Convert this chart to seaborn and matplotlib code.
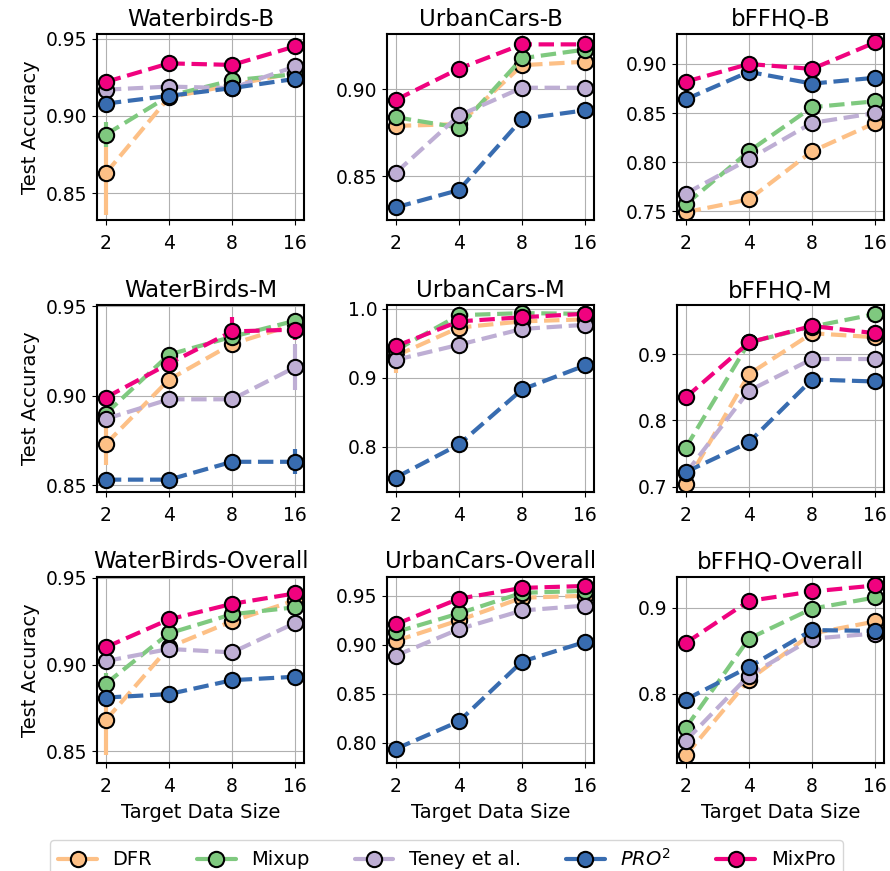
import numpy as np
import pandas as pd
import matplotlib
matplotlib.use("Agg")
import matplotlib.pyplot as plt
from matplotlib.lines import Line2D
from matplotlib.ticker import NullLocator
import seaborn as sns

# --- data ---
sizes = [2, 4, 8, 16]
methods = ["DFR", "Mixup", "Teney et al.", "$PRO^2$", "MixPro"]
colors = ["#fdc086", "#7fc97f", "#beaed4", "#386cb0", "#f0027f"]

titles = ["Waterbirds-B", "UrbanCars-B", "bFFHQ-B",
          "WaterBirds-M", "UrbanCars-M", "bFFHQ-M",
          "WaterBirds-Overall", "UrbanCars-Overall", "bFFHQ-Overall"]

# rows follow `methods` order
wb_b = [[0.863, 0.912, 0.920, 0.928],
        [0.888, 0.913, 0.923, 0.927],
        [0.917, 0.919, 0.918, 0.932],
        [0.908, 0.913, 0.918, 0.924],
        [0.922, 0.934, 0.933, 0.945]]
uc_b = [[0.879, 0.880, 0.914, 0.916],
        [0.884, 0.878, 0.918, 0.923],
        [0.852, 0.885, 0.901, 0.901],
        [0.832, 0.842, 0.883, 0.888],
        [0.894, 0.912, 0.926, 0.926]]
bf_b = [[0.749, 0.762, 0.811, 0.840],
        [0.757, 0.811, 0.856, 0.862],
        [0.768, 0.803, 0.840, 0.850],
        [0.864, 0.892, 0.880, 0.886],
        [0.882, 0.900, 0.895, 0.922]]
wb_m = [[0.873, 0.909, 0.929, 0.940],
        [0.890, 0.923, 0.933, 0.942],
        [0.887, 0.898, 0.898, 0.916],
        [0.853, 0.853, 0.863, 0.863],
        [0.899, 0.918, 0.936, 0.937]]
uc_m = [[0.932, 0.973, 0.982, 0.985],
        [0.940, 0.991, 0.994, 0.993],
        [0.926, 0.948, 0.971, 0.977],
        [0.755, 0.803, 0.883, 0.918],
        [0.946, 0.982, 0.988, 0.993]]
bf_m = [[0.704, 0.870, 0.932, 0.926],
        [0.759, 0.918, 0.942, 0.961],
        [0.720, 0.845, 0.893, 0.893],
        [0.722, 0.767, 0.862, 0.859],
        [0.835, 0.918, 0.943, 0.932]]
wb_o = [[0.868, 0.910, 0.925, 0.937],
        [0.889, 0.918, 0.929, 0.933],
        [0.902, 0.909, 0.907, 0.924],
        [0.881, 0.883, 0.891, 0.893],
        [0.910, 0.926, 0.935, 0.941]]
uc_o = [[0.904, 0.925, 0.948, 0.950],
        [0.913, 0.932, 0.953, 0.955],
        [0.889, 0.916, 0.935, 0.940],
        [0.794, 0.822, 0.883, 0.903],
        [0.921, 0.947, 0.958, 0.960]]
bf_o = [[0.728, 0.816, 0.870, 0.884],
        [0.760, 0.864, 0.899, 0.912],
        [0.745, 0.821, 0.864, 0.870],
        [0.793, 0.831, 0.874, 0.873],
        [0.859, 0.908, 0.919, 0.926]]

# error bars (std), mostly hidden behind markers
no_err = [[0, 0, 0, 0]] * 5
wb_b_err = [[0.027, 0, 0, 0], [0.008, 0, 0, 0], [0, 0, 0, 0], [0, 0, 0, 0], [0, 0, 0, 0]]
wb_m_err = [[0.012, 0, 0, 0.004], [0.007, 0, 0, 0], [0, 0, 0, 0.013],
            [0, 0, 0, 0.007], [0, 0, 0.008, 0.006]]
uc_m_err = [[0.025, 0, 0, 0], [0, 0, 0, 0], [0, 0, 0, 0], [0, 0, 0, 0], [0.012, 0, 0, 0]]
wb_o_err = [[0.02, 0, 0, 0], [0.006, 0, 0, 0], [0, 0, 0, 0], [0, 0, 0, 0], [0, 0, 0, 0]]
uc_o_err = [[0, 0, 0, 0], [0, 0, 0, 0], [0, 0, 0, 0], [0, 0, 0, 0], [0.008, 0, 0, 0]]

panels = [wb_b, uc_b, bf_b, wb_m, uc_m, bf_m, wb_o, uc_o, bf_o]
errors = [wb_b_err, no_err, no_err, wb_m_err, uc_m_err, no_err, wb_o_err, uc_o_err, no_err]

ylims = [(0.8326, 0.953), (0.8246, 0.932), (0.7408, 0.9306),
         (0.8463, 0.9506), (0.7345, 1.0053), (0.6924, 0.9742),
         (0.8433, 0.9506), (0.7796, 0.9694), (0.719, 0.9362)]
yticks = [[0.85, 0.90, 0.95], [0.85, 0.90], [0.75, 0.80, 0.85, 0.90],
          [0.85, 0.90, 0.95], [0.8, 0.9, 1.0], [0.7, 0.8, 0.9],
          [0.85, 0.90, 0.95], [0.80, 0.85, 0.90, 0.95], [0.8, 0.9]]
yfmt = ["%.2f", "%.2f", "%.2f", "%.2f", "%.1f", "%.1f", "%.2f", "%.2f", "%.1f"]

# --- plot ---
sns.set_style("ticks", {"axes.grid": True, "grid.color": "#b0b0b0",
                        "axes.edgecolor": "black", "text.color": "black",
                        "axes.labelcolor": "black", "xtick.color": "black",
                        "ytick.color": "black"})
plt.rcParams["font.family"] = ["DejaVu Sans"]

fig, axes = plt.subplots(3, 3, figsize=(8.9, 8.71))
fig.subplots_adjust(left=0.109, right=0.9933, top=0.961, bottom=0.124,
                    wspace=0.40, hspace=0.457)

for k, ax in enumerate(axes.flat):
    vals = panels[k]
    df = pd.DataFrame({
        "size": np.tile(sizes, len(methods)),
        "acc": np.ravel(vals),
        "method": np.repeat(methods, len(sizes)),
    })
    ax.set_xscale("log", base=2)
    for i in range(len(methods)):
        ax.errorbar(sizes, vals[i], yerr=errors[k][i], fmt="none",
                    ecolor=colors[i], elinewidth=3, capsize=0, zorder=1)
    sns.lineplot(data=df, x="size", y="acc", hue="method", hue_order=methods,
                 palette=colors, marker="o", markersize=11,
                 markeredgecolor="black", markeredgewidth=1.5,
                 linestyle="--", linewidth=3, errorbar=None,
                 legend=False, ax=ax, zorder=2)
    ax.set_xticks(sizes)
    ax.set_xticklabels([str(s) for s in sizes])
    ax.xaxis.set_minor_locator(NullLocator())
    ax.set_xlim(2 / 2 ** 0.14, 16 * 2 ** 0.14)
    ax.set_ylim(*ylims[k])
    ax.set_yticks(yticks[k])
    ax.set_yticklabels([yfmt[k] % t for t in yticks[k]])
    ax.tick_params(labelsize=13.5)
    ax.tick_params(axis="x", pad=6.5)
    ax.set_title(titles[k], fontsize=16.5)
    ax.set_xlabel("Target Data Size" if k >= 6 else "", fontsize=14, labelpad=5)
    ax.set_ylabel("Test Accuracy" if k % 3 == 0 else "", fontsize=14)
    for sp in ax.spines.values():
        sp.set_linewidth(1.5)

handles = [Line2D([], [], color=c, marker="o", markersize=11,
                  markeredgecolor="black", markeredgewidth=1.5, linewidth=3)
           for c in colors]
fig.legend(handles, methods, loc="upper center", bbox_to_anchor=(0.502, 0.047),
           ncol=5, fontsize=14, frameon=True, columnspacing=2.3)

fig.savefig("out.png", dpi=100)
